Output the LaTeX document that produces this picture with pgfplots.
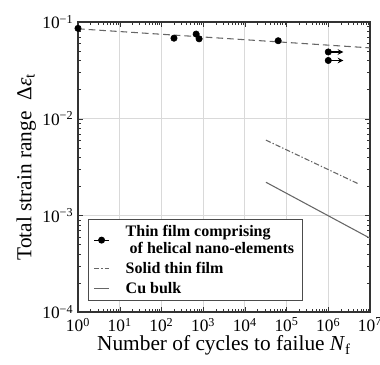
\documentclass[border=0pt]{standalone}
\usepackage{fontspec}
\setmainfont{Liberation Serif}
\usepackage{pgfplots}
\pgfplotsset{compat=1.18}
\begin{document}
\begin{tikzpicture}
\begin{axis}[
  scale only axis,
  width=219pt, height=217.5pt,
  xmode=log, ymode=log,
  xmin=1, xmax=1e7, ymin=1e-4, ymax=1e-1,
  xtick={1,10,100,1000,10000,100000,1000000,10000000},
  xticklabels={10\textsuperscript{0},10\textsuperscript{1},10\textsuperscript{2},10\textsuperscript{3},10\textsuperscript{4},10\textsuperscript{5},10\textsuperscript{6},10\textsuperscript{7}},
  ytick={1e-4,1e-3,1e-2,1e-1},
  yticklabels={10\textsuperscript{−4},10\textsuperscript{−3},10\textsuperscript{−2},10\textsuperscript{−1}},
  grid=major,
  major grid style={gray!30, line width=0.6pt},
  axis line style={line width=1.2pt, black!80},
  tick style={black!80},
  minor tick length=2pt, major tick length=4pt,
  tick align=inside,
  xtick pos=both, ytick pos=both,
  tick label style={font=\fontsize{13}{14}\selectfont},
  xticklabel style={yshift=-1pt},
  xlabel={Number of cycles to failue \textit{N}\textsubscript{f}},
  ylabel={Total strain range\ \ Δ\textit{ε}\textsubscript{t}},
  label style={font=\fontsize{16}{18}\selectfont},
  xlabel style={yshift=4pt},
  ylabel style={yshift=-2pt},
  legend style={at={(axis cs:1.7,1.3e-4)}, anchor=south west, draw=black!70, line width=0.8pt,
    font=\bfseries\fontsize{12}{13}\selectfont, cells={align=left, anchor=west}, row sep=1pt,
    inner xsep=4pt, inner ysep=2pt},
  legend cell align=left,
]
\addplot[black, only marks, mark=*, mark size=2.4pt,
  legend image code/.code={\draw[black, line width=0.8pt] (0cm,0cm) -- (0.4cm,0cm); \fill[black] (0.2cm,0cm) circle (2.2pt);}] coordinates {
  (1,0.086) (200,0.068) (680,0.075) (800,0.067) (63000,0.064) (1e6,0.049) (1e6,0.040)};
\addlegendentry{\hspace{10pt}Thin film comprising\\ \hspace{13pt}of helical nano-elements\hspace{8pt}}
\addplot[black!60, dash pattern=on 5pt off 3pt, line width=0.8pt, forget plot] coordinates {(1,0.085) (1e7,0.054)};
\addplot[black!60, dash pattern=on 4pt off 1.5pt on 1pt off 1.5pt, line width=0.8pt,
  legend image code/.code={\draw[black!60, dash pattern=on 4pt off 1.5pt on 1pt off 1.5pt, line width=0.8pt] (0cm,0cm) -- (0.4cm,0cm);}] coordinates {(3.2e4,0.006) (5.5e6,0.0021)};
\addlegendentry{\hspace{10pt}Solid thin film}
\addplot[black!60, line width=0.8pt,
  legend image code/.code={\draw[black!60, line width=0.8pt] (0cm,0cm) -- (0.4cm,0cm);}] coordinates {(3.2e4,0.0022) (1e7,0.00058)};
\addlegendentry{\hspace{10pt}Cu bulk}
\addplot[black, -stealth, line width=0.9pt, forget plot] coordinates {(1e6,0.049) (2.3e6,0.049)};
\addplot[black, -stealth, line width=0.9pt, forget plot] coordinates {(1e6,0.040) (2.3e6,0.040)};
\end{axis}
\pgfresetboundingbox
\path[use as bounding box] (current axis.south west) ++(-58.5pt,-39.75pt) rectangle ++(285pt,273.75pt);
\end{tikzpicture}
\end{document}
